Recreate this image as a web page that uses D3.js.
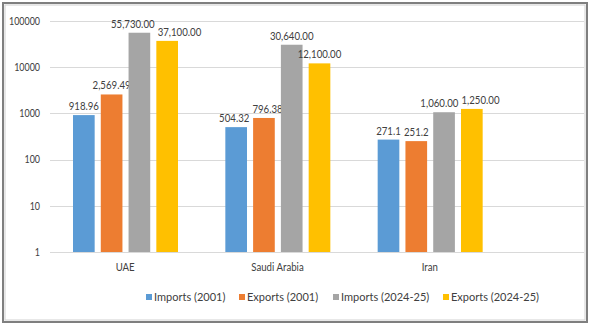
<!DOCTYPE html>
<html><head><meta charset="utf-8">
<script src="https://cdn.jsdelivr.net/npm/d3@7"></script>
<style>body{margin:0;background:#fff}svg{display:block}text{font-family:Lato,"Open Sans",sans-serif;fill:#404040}</style>
</head><body>
<svg id="c" width="591" height="328"></svg>
<script>
const categories = ["UAE", "Saudi Arabia", "Iran"];
const series = ["Imports (2001)", "Exports (2001)", "Imports (2024-25)", "Exports (2024-25)"];
const colors = ["#5b9bd5", "#ed7d31", "#a5a5a5", "#ffc000"];
const importsOld = [918.96, 504.32, 271.1];
const exportsOld = [2569.49, 796.38, 251.2];
const importsNew = [55730, 30640, 1060];
const exportsNew = [37100, 12100, 1250];
const labelText = [
  ["918.96", "504.32", "271.1"],
  ["2,569.49", "796.38", "251.2"],
  ["55,730.00", "30,640.00", "1,060.00"],
  ["37,100.00", "12,100.00", "1,250.00"]
];
const yTicks = [1, 10, 100, 1000, 10000, 100000];
const values = [importsOld, exportsOld, importsNew, exportsNew];

const SX = 0.84;
const svg = d3.select("#c");
// frame
svg.append("rect").attr("x", 3).attr("y", 3).attr("width", 584).attr("height", 319)
  .attr("fill", "#fff").attr("stroke", "#7f7f7f").attr("stroke-width", 2);
svg.append("rect").attr("x", 5).attr("y", 5).attr("width", 580).attr("height", 315)
  .attr("fill", "none").attr("stroke", "#d0d0d0").attr("stroke-width", 1);

const y = d3.scaleLog().domain([1, 100000]).range([252, 21]);
const x = d3.scaleBand().domain(categories).range([49, 506]);
const xs = d3.scaleBand().domain(series).range([24, 129]).paddingInner(0.22);

// grid
const gridL = 50, gridR = 584;
svg.append("g").selectAll("line").data(yTicks).join("line")
  .attr("x1", gridL).attr("x2", gridR)
  .attr("y1", d => Math.round(y(d)) + 0.5).attr("y2", d => Math.round(y(d)) + 0.5)
  .attr("stroke", "#d9d9d9").attr("stroke-width", 1);

const yAxis = d3.axisLeft(y).tickValues(yTicks).tickFormat(d3.format("d")).tickSize(0).tickPadding(0);
const ga = svg.append("g").attr("transform", "translate(40,0)").call(yAxis);
ga.select(".domain").remove();
ga.selectAll("text").style("font-size", "10.5px").style("font-family", "Lato")
  .attr("fill", "#404040").attr("transform", "scale(0.85,1)");

const xAxis = d3.axisBottom(x).tickSize(0).tickPadding(0);
const gx = svg.append("g").attr("transform", "translate(0,264)").call(xAxis);
gx.select(".domain").remove();
gx.selectAll("text").style("font-size", "10.5px").style("font-family", "Lato")
  .attr("fill", "#404040").attr("transform", "scale(0.92,1)");

// bars
const labels = [];
series.forEach((s, si) => {
  const g = svg.append("g");
  g.selectAll("rect").data(categories).join("rect")
    .attr("x", c => x(c) + xs(s))
    .attr("width", xs.bandwidth())
    .attr("y", (c, i) => y(values[si][i]))
    .attr("height", (c, i) => y(1) - y(values[si][i]))
    .attr("fill", colors[si]);
  categories.forEach((c, i) => {
    const cx = x(c) + xs(s) + xs.bandwidth() / 2;
    const cy = y(values[si][i]) - 5;
    const t = g.append("text").attr("text-anchor", "middle")
      .style("font-size", "11.5px").text(labelText[si][i]);
    const w = t.node().getComputedTextLength() * SX;
    labels.push({t, cx, cy, w, ci: i, si});
  });
});
// resolve overlaps between neighbouring labels of the same group
categories.forEach((c, ci) => {
  const ls = labels.filter(l => l.ci === ci).sort((a, b) => a.si - b.si);
  for (let k = 1; k < ls.length; k++) {
    const a = ls[k - 1], b = ls[k];
    if (Math.abs(a.cy - b.cy) < 12) {
      const overlap = (a.cx + a.w / 2 + 3) - (b.cx - b.w / 2);
      if (overlap > 0) { a.cx -= overlap * 0.35; b.cx += overlap * 0.65; }
    }
  }
});
labels.forEach(l => l.t.attr("transform", `translate(${l.cx},${l.cy}) scale(${SX},1)`));

// legend
const legX = [146, 239, 333, 443];
const lg = svg.append("g");
series.forEach((s, i) => {
  lg.append("rect").attr("x", legX[i]).attr("y", 294).attr("width", 6).attr("height", 6).attr("fill", colors[i]);
  lg.append("text").attr("x", legX[i] + 8).attr("y", 301).style("font-size", "11px").text(s);
});
</script>
</body></html>
